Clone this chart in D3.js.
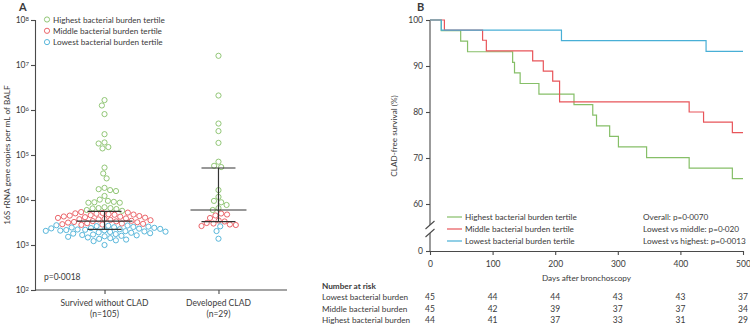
<!DOCTYPE html>
<html><head><meta charset="utf-8">
<script src="https://cdn.jsdelivr.net/npm/d3@7"></script>
<style>
body{margin:0;background:#fff}
svg{display:block}
text{font-family:Lato,"Open Sans",sans-serif;fill:#3a3a3a}
</style>
</head><body>
<svg id="chart" width="750" height="324"></svg>
<script>
// ================= Panel A data =================
const groupsA = ["Survived without CLAD", "Developed CLAD"];
const groupNs = ["(n=105)", "(n=29)"];
const tertileNames = ["Highest bacterial burden tertile", "Middle bacterial burden tertile", "Lowest bacterial burden tertile"];
const tertileColors = ["#86bf68", "#e8555a", "#48afd6"];
// 16S rRNA gene copies per mL of BALF
const survivedHigh = [1660000, 1260000, 810000, 290000, 190000, 180000, 150000, 140000, 52500, 38900, 30200,
  18600, 16600, 15800, 17400, 12300, 10200, 9550, 8700, 8700, 8900, 9100, 6900, 6300, 6600, 6600, 6500, 6000, 5750];
const survivedMid = [5400, 5250, 5150, 5050, 4950, 4850, 4750, 4700, 4600, 4500, 4400, 4300, 4250, 4150, 4050, 4000,
  3900, 3800, 3750, 3700, 3600, 3550, 3450, 3400, 3350, 3250, 3200, 3150, 3050, 3000, 2950, 2900, 2850, 2800];
const survivedLow = [2750, 2710, 2670, 2630, 2560, 2520, 2480, 2450, 2410, 2380, 2340, 2310, 2280, 2240, 2210, 2180,
  2150, 2120, 2090, 2060, 2030, 2000, 1980, 1950, 1910, 1870, 1830, 1790, 1750, 1710, 1670, 1640, 1600, 1560, 1520,
  1470, 1420, 1370, 1320, 1270, 1220, 1000];
const cladHigh = [16000000, 2100000, 500000, 340000, 186000, 71000, 57500, 54000, 16600, 11700, 9550, 8900, 7760, 6600, 6000];
const cladMid = [5010, 4760, 4530, 3980, 3500, 3330, 3080, 3000, 2860, 2780, 2640];
const cladLow = [2600, 2040, 1380];
// median and interquartile range per group
const medianA = [3410, 6000];
const q1A = [2230, 3300];
const q3A = [5610, 51400];
const logTicksA = [1e2, 1e3, 1e4, 1e5, 1e6, 1e7, 1e8];
const pTextA = "p=0·0018";

// ================= Panel B data =================
const lowDays  = [0, 18, 210, 441, 500];
const lowSurv  = [100, 97.8, 95.5, 93.2, 93.2];
const midDays  = [0, 23, 84, 90, 164, 181, 196, 207, 414, 437, 483, 500];
const midSurv  = [100, 97.8, 95.6, 93.3, 91.1, 88.9, 86.7, 82.2, 80.0, 77.8, 75.5, 75.5];
const highDays = [0, 18, 49, 60, 132, 135, 144, 174, 230, 260, 266, 287, 301, 346, 414, 483, 500];
const highSurv = [100, 97.7, 95.4, 93.1, 90.8, 88.5, 86.2, 83.9, 81.6, 79.3, 77.0, 74.7, 72.4, 70.1, 67.8, 65.5, 65.5];
const yTicksB = [0, 60, 70, 80, 90, 100];
const xTicksB = [0, 100, 200, 300, 400, 500];
const riskDays = [0, 100, 200, 300, 400, 500];
const riskLabels = ["Lowest bacterial burden", "Middle bacterial burden", "Highest bacterial burden"];
const riskLow  = [45, 44, 44, 43, 43, 37];
const riskMid  = [45, 42, 39, 37, 37, 34];
const riskHigh = [44, 41, 37, 33, 31, 29];
const pTextsB = ["Overall: p=0·0070", "Lowest vs middle: p=0·020", "Lowest vs highest: p=0·0013"];

// ================= Drawing =================
const svg = d3.select("#chart");
const axisColor = "#4a4a4a";
const fs = 8.2;

function styleAxis(g) {
  g.selectAll("path,line").attr("stroke", axisColor).attr("stroke-width", 1.1);
  g.selectAll("text").attr("fill", "#3a3a3a").style("font-size", fs + "px").style("font-family", "Lato");
}

// ---------- Panel A ----------
const yA = d3.scaleLog().domain([1e2, 1e8]).range([290, 20]);
const xA = d3.scalePoint().domain(groupsA).range([35, 288]).padding(0.61);

svg.append("text").attr("x", 19).attr("y", 11).text("A").style("font-weight", "bold").style("font-size", "11px");

const gyA = svg.append("g").attr("transform", "translate(35,0)")
  .call(d3.axisLeft(yA).tickValues(logTicksA).tickSize(4).tickFormat(() => ""));
styleAxis(gyA);
gyA.selectAll(".tick").each(function(d) {
  const t = d3.select(this).append("text").attr("x", -6).attr("dy", "0.35em").attr("text-anchor", "end")
    .style("font-size", "8.5px").attr("fill", "#3a3a3a");
  t.append("tspan").text("10");
  t.append("tspan").attr("dy", "-0.45em").style("font-size", "6px").text(Math.round(Math.log10(d)));
});

const gxA = svg.append("g").attr("transform", "translate(0,290)")
  .call(d3.axisBottom(xA).tickSize(4).tickSizeOuter(0).tickFormat(""));
styleAxis(gxA);
gxA.select(".domain").attr("d", "M35,0H287");
groupsA.forEach((g, i) => {
  svg.append("text").attr("x", xA(g)).attr("y", 306).attr("text-anchor", "middle").style("font-size", "8.5px").text(g);
  svg.append("text").attr("x", xA(g)).attr("y", 317).attr("text-anchor", "middle").style("font-size", "8.5px").text(groupNs[i]);
});

svg.append("text").attr("transform", "translate(10,155) rotate(-90)").attr("text-anchor", "middle")
  .style("font-size", "8.3px").text("16S rRNA gene copies per mL of BALF");

// beeswarm layout
function swarm(points, D) {
  const placed = [];
  points.sort((a, b) => a.py - b.py);
  for (const p of points) {
    const cands = [0];
    for (const q of placed) {
      const dy = Math.abs(q.py - p.py);
      if (dy < D) { const dx = Math.sqrt(D * D - dy * dy); cands.push(q.dx - dx, q.dx + dx); }
    }
    cands.sort((a, b) => Math.abs(a) - Math.abs(b));
    for (const c of cands) {
      if (placed.every(q => (q.dx - c) ** 2 + (q.py - p.py) ** 2 >= D * D - 0.01)) { p.dx = c; break; }
    }
    placed.push(p);
  }
  return placed;
}

const groupData = [
  [survivedHigh, survivedMid, survivedLow],
  [cladHigh, cladMid, cladLow]
];
groupData.forEach((sets, gi) => {
  const pts = [];
  sets.forEach((vals, ti) => vals.forEach(v => pts.push({ v, ti, py: yA(v) })));
  swarm(pts, 6.0);
  const cx = xA(groupsA[gi]);
  svg.append("g").selectAll("circle").data(pts).join("circle")
    .attr("cx", d => cx + d.dx).attr("cy", d => d.py).attr("r", 2.6)
    .attr("fill", "none").attr("stroke", d => tertileColors[d.ti]).attr("stroke-width", 0.9);
  // median + IQR
  const eg = svg.append("g").attr("stroke", "#333").attr("stroke-width", 1.2);
  eg.append("line").attr("x1", cx).attr("x2", cx).attr("y1", yA(q1A[gi])).attr("y2", yA(q3A[gi]));
  eg.append("line").attr("x1", cx - 28).attr("x2", cx + 28).attr("y1", yA(medianA[gi])).attr("y2", yA(medianA[gi]));
  [q1A[gi], q3A[gi]].forEach(q => eg.append("line").attr("x1", cx - 17).attr("x2", cx + 17).attr("y1", yA(q)).attr("y2", yA(q)));
});

svg.append("text").attr("x", 44).attr("y", 280).style("font-size", "8.5px").text(pTextA);

const legA = svg.append("g");
tertileNames.forEach((n, i) => {
  const y = 19.5 + i * 11.3;
  legA.append("circle").attr("cx", 47).attr("cy", y).attr("r", 2.6).attr("fill", "none")
    .attr("stroke", tertileColors[i]).attr("stroke-width", 0.9);
  legA.append("text").attr("x", 53).attr("y", y + 3).style("font-size", fs + "px").text(n);
});

// ---------- Panel B ----------
const xB = d3.scaleLinear().domain([0, 500]).range([430, 743]);
const yB = d3.scaleLinear().domain([0, 60, 100]).range([251, 204, 20]);

svg.append("text").attr("x", 417).attr("y", 11).text("B").style("font-weight", "bold").style("font-size", "11px");

const gyB = svg.append("g").attr("transform", "translate(430,0)")
  .call(d3.axisLeft(yB).tickValues(yTicksB).tickSize(4).tickSizeOuter(0));
styleAxis(gyB);
gyB.selectAll("text").style("font-size", "8.5px");
gyB.select(".domain").remove();
const brk = svg.append("g").attr("stroke", axisColor).attr("stroke-width", 1.1).attr("fill", "none");
brk.append("path").attr("d", `M430,${yB(100)}V225M430,233V${yB(0)}`);
brk.append("path").attr("d", "M425.5,229L434.5,221M425.5,237L434.5,229");

const gxB = svg.append("g").attr("transform", "translate(0,251)")
  .call(d3.axisBottom(xB).tickValues(xTicksB).tickSize(4).tickSizeOuter(0));
styleAxis(gxB);
gxB.selectAll("text").attr("dy", "1.05em").style("font-size", "8.5px");

svg.append("text").attr("x", (xB(0) + xB(500)) / 2).attr("y", 281).attr("text-anchor", "middle")
  .style("font-size", fs + "px").text("Days after bronchoscopy");
svg.append("text").attr("transform", "translate(397,136) rotate(-90)").attr("text-anchor", "middle")
  .style("font-size", fs + "px").text("CLAD-free survival (%)");

const kmLine = d3.line().curve(d3.curveStepAfter).x(d => xB(d[0])).y(d => yB(d[1]));
const series = [
  { days: highDays, surv: highSurv, color: tertileColors[0] },
  { days: midDays, surv: midSurv, color: tertileColors[1] },
  { days: lowDays, surv: lowSurv, color: tertileColors[2] }
];
series.forEach(s => {
  svg.append("path").datum(d3.zip(s.days, s.surv)).attr("d", kmLine)
    .attr("fill", "none").attr("stroke", s.color).attr("stroke-width", 1.2);
});

tertileNames.forEach((n, i) => {
  const y = 217 + i * 12;
  svg.append("line").attr("x1", 447).attr("x2", 462).attr("y1", y).attr("y2", y)
    .attr("stroke", tertileColors[i]).attr("stroke-width", 1.2);
  svg.append("text").attr("x", 465).attr("y", y + 3).style("font-size", fs + "px").text(n);
  svg.append("text").attr("x", 643).attr("y", y + 3).style("font-size", fs + "px").text(pTextsB[i]);
});

// Number at risk table
svg.append("text").attr("x", 322).attr("y", 289).style("font-size", fs + "px").style("font-weight", "bold").text("Number at risk");
[riskLow, riskMid, riskHigh].forEach((row, i) => {
  const y = 300 + i * 11.5;
  svg.append("text").attr("x", 322).attr("y", y).style("font-size", fs + "px").text(riskLabels[i]);
  row.forEach((v, j) => {
    svg.append("text").attr("x", xB(riskDays[j])).attr("y", y).attr("text-anchor", "middle")
      .style("font-size", "8.5px").text(v);
  });
});
</script>
</body></html>
